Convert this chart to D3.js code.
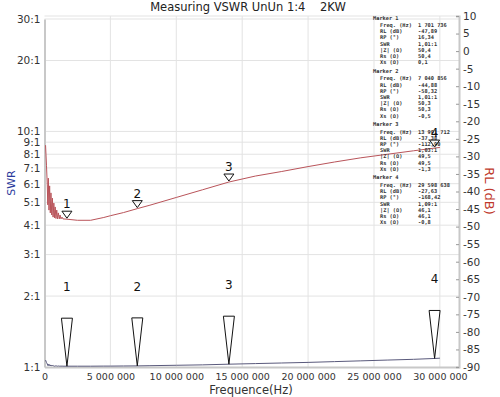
<!DOCTYPE html>
<html>
<head>
<meta charset="utf-8">
<script src="https://cdn.jsdelivr.net/npm/d3@7"></script>
<style>
  body { margin: 0; background: #fff; }
  svg { display: block; font-family: "DejaVu Sans", sans-serif; }
</style>
</head>
<body>
<div id="chart"></div>
<script>
// ------------------------------
// Data (read from the sweep)
// ------------------------------

const freqHz = [
  80000, 150000, 210000, 250000, 290000, 340000, 390000, 440000, 490000, 550000,
  600000, 650000, 710000, 760000, 810000, 870000, 930000, 990000, 1050000, 1120000,
  1180000, 1250000, 1330000, 1400000, 1701736, 2500000, 3500000, 4500000, 5000000, 6000000,
  7040856, 8000000, 10000000, 12000000, 13991712, 16000000, 18000000, 20000000, 22000000, 24000000,
  26000000, 28000000, 29598638, 30000000
];

// return loss, right axis
const rlDb = [
  -26.8, -32.5, -38.1, -43.8, -36.2, -45.3, -38.4, -46.1, -40.4, -46.7,
  -41.9, -47.3, -43.3, -47.5, -44.4, -47.7, -45.3, -47.8, -46.1, -47.8,
  -46.7, -47.8, -47.3, -47.8, -47.89, -48.2, -48.2, -47.4, -46.9, -46.0,
  -44.88, -43.9, -41.7, -39.5, -37.3, -35.6, -34.3, -32.9, -31.6, -30.4,
  -29.4, -28.4, -27.63, -27.45
];

// SWR, left axis
const swr = [
  1.07, 1.045, 1.03, 1.015, 1.027, 1.012, 1.024, 1.01, 1.02, 1.009,
  1.016, 1.009, 1.014, 1.008, 1.012, 1.008, 1.011, 1.008, 1.01, 1.008,
  1.009, 1.008, 1.009, 1.008, 1.008, 1.008, 1.008, 1.009, 1.009, 1.01,
  1.011, 1.013, 1.017, 1.021, 1.028, 1.034, 1.04, 1.046, 1.054, 1.062,
  1.07, 1.078, 1.087, 1.09
];

const swrTicks = [1, 2, 3, 4, 5, 6, 7, 8, 9, 10, 20, 30];
const rlTicks = d3.range(-90, 11, 5);
const freqTicks = [0, 5000000, 10000000, 15000000, 20000000, 25000000, 30000000];

// markers
const markerIndex = [24, 30, 34, 42];
const markerLabels = ["Freq. (Hz)", "RL (dB)", "RP (°)", "SWR", "|Z| (Ω)", "Rs (Ω)", "Xs (Ω)"];
const markerValues = [
  ["1 701 736", "-47,89", "16,34", "1,01:1", "50,4", "50,4", "0,1"],
  ["7 040 856", "-44,88", "-58,32", "1,01:1", "50,3", "50,3", "-0,5"],
  ["13 991 712", "-37,38", "-112,90", "1,03:1", "49,5", "49,5", "-1,3"],
  ["29 598 638", "-27,63", "-168,42", "1,09:1", "46,1", "46,1", "-0,8"]
];

// ------------------------------
// Layout
// ------------------------------

const width = 500;
const height = 397;
const plot = { left: 44.5, right: 459, top: 16, bottom: 367 };

const x = d3.scaleLinear().domain([0, 31450000]).range([plot.left, plot.right]);
const yRL = d3.scaleLinear().domain([-90, 10]).range([plot.bottom, plot.top]);
const ySwr = d3.scaleLog().domain([1, 30]).range([plot.bottom, 19]);

const svg = d3.select("#chart").append("svg").attr("width", width).attr("height", height);

// grid
svg.append("g")
  .selectAll("line")
  .data(swrTicks.slice(1))
  .join("line")
  .attr("x1", plot.left).attr("x2", plot.right)
  .attr("y1", (d) => ySwr(d)).attr("y2", (d) => ySwr(d))
  .attr("stroke", "#e3e3e3");

svg.append("g")
  .selectAll("line")
  .data(freqTicks.slice(1))
  .join("line")
  .attr("x1", (d) => x(d)).attr("x2", (d) => x(d))
  .attr("y1", plot.top).attr("y2", plot.bottom)
  .attr("stroke", "#e3e3e3");

svg.append("line")
  .attr("x1", plot.left).attr("x2", plot.right)
  .attr("y1", plot.top).attr("y2", plot.top)
  .attr("stroke", "#e3e3e3");

// ------------------------------
// Axes
// ------------------------------

const fmtHz = (d) => d3.format(",")(d).replace(/,/g, " ");

const xAxis = svg.append("g")
  .attr("transform", `translate(0,${plot.bottom})`)
  .call(d3.axisBottom(x).tickValues(freqTicks).tickFormat(fmtHz).tickSize(0).tickPadding(6));

const leftAxis = svg.append("g")
  .attr("transform", `translate(${plot.left},0)`)
  .call(d3.axisLeft(ySwr).tickValues(swrTicks).tickFormat((d) => d + ":1").tickSize(0).tickPadding(4));

const rightAxis = svg.append("g")
  .attr("transform", `translate(${plot.right},0)`)
  .call(d3.axisRight(yRL).tickValues(rlTicks).tickFormat((d) => String(d)).tickSize(-3).tickPadding(4));

[xAxis, leftAxis, rightAxis].forEach((g) => {
  g.select(".domain").attr("stroke", "#c8c8c8").attr("stroke-width", 2);
  g.selectAll(".tick line").attr("stroke", "#999");
  g.selectAll("text").attr("fill", "#333").attr("font-family", "DejaVu Sans");
});
xAxis.selectAll("text").attr("font-size", 9.5);
leftAxis.selectAll("text").attr("font-size", 10.5);
rightAxis.selectAll("text").attr("font-size", 10.5);

// ------------------------------
// Curves
// ------------------------------

const points = freqHz.map((f, i) => ({ f, rl: rlDb[i], s: swr[i] }));

svg.append("path")
  .datum(points)
  .attr("fill", "none")
  .attr("stroke", "#b9545a")
  .attr("stroke-width", 1)
  .attr("d", d3.line().x((d) => x(d.f)).y((d) => yRL(d.rl)));

svg.append("path")
  .datum(points)
  .attr("fill", "none")
  .attr("stroke", "#5a5a7c")
  .attr("stroke-width", 1)
  .attr("d", d3.line().x((d) => x(d.f)).y((d) => ySwr(d.s)));

// ------------------------------
// Markers
// ------------------------------

markerIndex.forEach((idx, m) => {
  const p = points[idx];
  const px = x(p.f);

  // marker readout (drawn first so the marker glyphs sit on top, as in the original)
  const top = 19.5 + m * 53.3;
  const block = svg.append("g")
    .attr("font-family", "DejaVu Sans Mono, monospace")
    .attr("font-size", 5.3).attr("font-weight", "bold").attr("fill", "#333");
  block.append("text").attr("x", 373).attr("y", top).text(`Marker ${m + 1}`);
  markerLabels.forEach((label, k) => {
    const ly = top + 7.5 + k * 6.2;
    block.append("text").attr("x", 380).attr("y", ly).text(label);
    block.append("text").attr("x", 418).attr("y", ly).text(markerValues[m][k]);
  });
});

markerIndex.forEach((idx, m) => {
  const p = points[idx];
  const px = x(p.f);

  // small marker on the return loss curve
  const ty = yRL(p.rl) - 1;
  svg.append("path")
    .attr("d", `M${px - 5},${ty - 7}L${px + 5},${ty - 7}L${px},${ty}Z`)
    .attr("fill", "none").attr("stroke", "#111").attr("stroke-width", 1);
  svg.append("text")
    .attr("x", px).attr("y", ty - 10)
    .attr("text-anchor", "middle").attr("font-size", 12).attr("fill", "#111")
    .text(m + 1);

  // tall marker on the SWR curve
  const sy = ySwr(p.s);
  svg.append("path")
    .attr("d", `M${px - 5.5},${sy - 48}L${px + 5.5},${sy - 48}L${px},${sy}Z`)
    .attr("fill", "none").attr("stroke", "#111").attr("stroke-width", 1);
  svg.append("text")
    .attr("x", px).attr("y", sy - 75)
    .attr("text-anchor", "middle").attr("font-size", 12).attr("fill", "#111")
    .text(m + 1);
});

// ------------------------------
// Titles
// ------------------------------

svg.append("text")
  .attr("x", 248).attr("y", 11)
  .attr("text-anchor", "middle").attr("font-size", 11.5).attr("fill", "#222")
  .style("white-space", "pre")
  .text("Measuring VSWR UnUn 1:4    2KW");

svg.append("text")
  .attr("x", 251).attr("y", 394)
  .attr("text-anchor", "middle").attr("font-size", 11.5).attr("fill", "#333")
  .text("Frequence(Hz)");

svg.append("text")
  .attr("transform", "translate(15,183) rotate(-90)")
  .attr("text-anchor", "middle").attr("font-size", 11).attr("fill", "#2b3a9c")
  .text("SWR");

svg.append("text")
  .attr("transform", "translate(485,191) rotate(90)")
  .attr("text-anchor", "middle").attr("font-size", 13).attr("fill", "#c0392b")
  .text("RL (dB)");
</script>
</body>
</html>
